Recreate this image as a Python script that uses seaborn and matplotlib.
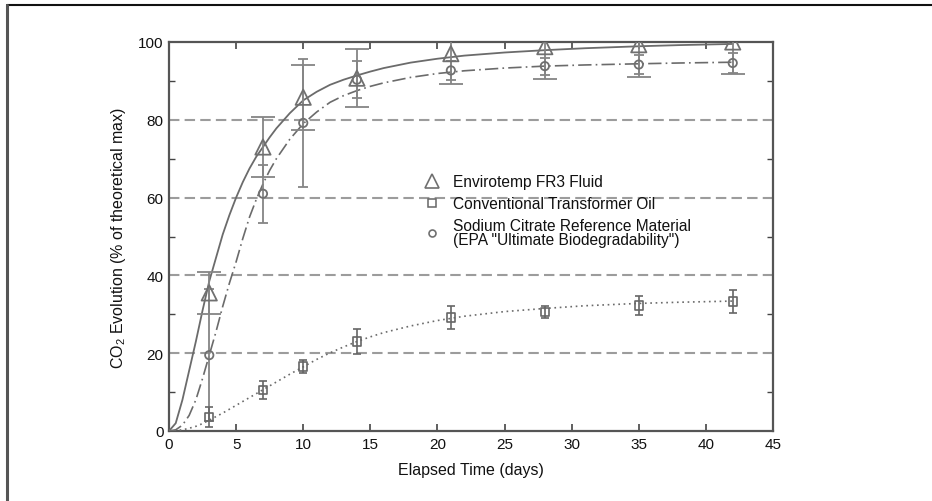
import matplotlib
matplotlib.use("Agg")
import matplotlib.pyplot as plt
from matplotlib.lines import Line2D
from matplotlib.ticker import MultipleLocator
import seaborn as sns
import pandas as pd

# ---- data ----
days = [3, 7, 10, 14, 21, 28, 35, 42]
fr3 = [35.5, 73.0, 85.8, 90.7, 97.0, 98.8, 99.3, 100.0]
fr3_err = [5.5, 7.8, 8.3, 7.5, 7.8, 8.3, 8.2, 8.3]
oil = [3.6, 10.5, 16.6, 23.0, 29.2, 30.6, 32.3, 33.3]
oil_err = [2.5, 2.3, 1.6, 3.2, 2.9, 1.6, 2.4, 3.0]
citrate = [19.5, 61.0, 79.2, 90.3, 92.7, 93.8, 94.2, 94.6]
citrate_err = [17.0, 7.5, 16.5, 4.7, 2.5, 2.2, 2.5, 2.5]

# fitted curves
fit_days = [0, 0.5, 1, 1.5, 2, 2.5, 3, 3.5, 4, 4.5, 5, 5.5, 6, 6.5, 7, 7.5, 8, 9, 10,
            11, 12, 13, 14, 15, 16, 18, 20, 22, 25, 28, 31, 35, 38, 42]
fr3_fit = [0, 2, 8, 15.5, 23, 31, 38.5, 44.5, 50.5, 55.5, 60, 64, 67.5, 70.5, 73, 75.5, 77.8, 81.7, 85,
           87.2, 89, 90.3, 91.4, 92.4, 93.3, 94.7, 95.7, 96.5, 97.3, 97.9, 98.4, 98.9, 99.2, 99.5]
citrate_fit = [0, 0.3, 1.5, 4, 8, 13.5, 19.5, 25.5, 32, 38, 43.5, 49.5, 55, 59.5, 63.5, 67, 70, 75, 79,
               82, 84.5, 86.2, 87.5, 88.6, 89.5, 90.9, 91.9, 92.6, 93.3, 93.8, 94.1, 94.4, 94.6, 94.8]
oil_fit = [0, 0.1, 0.3, 0.7, 1.2, 1.9, 2.8, 3.7, 4.6, 5.6, 6.6, 7.6, 8.6, 9.6, 10.6, 11.6, 12.6, 14.6, 16.5,
           18.4, 20.1, 21.6, 23.0, 24.2, 25.3, 27.0, 28.4, 29.5, 30.7, 31.5, 32.2, 32.8, 33.1, 33.4]

grid_levels = [20, 40, 60, 80]

labels = ["Envirotemp FR3 Fluid",
          "Conventional Transformer Oil",
          "Sodium Citrate Reference Material\n(EPA \"Ultimate Biodegradability\")"]

x_label = "Elapsed Time (days)"
y_label = "CO$_2$ Evolution (% of theoretical max)"

# ---- styling ----
sns.set_theme(style="white")
plt.rcParams["font.family"] = ["Liberation Sans", "DejaVu Sans"]
plt.rcParams["mathtext.fontset"] = "custom"
plt.rcParams["mathtext.rm"] = "Liberation Sans"
plt.rcParams["mathtext.it"] = "Liberation Sans"

W, H = 932, 502
fig = plt.figure(figsize=(W / 100, H / 100), dpi=100)
ax = fig.add_axes([169 / W, (H - 432) / H, (773 - 169) / W, (432 - 43) / H])

line_col = "#6b6b6b"
err_col = "#858585"
mark_col = "#707070"

for g in grid_levels:
    ax.axhline(g, color="#9c9c9c", lw=1.5, dashes=(5, 2.5), zorder=1)

fit_df = pd.DataFrame({"t": fit_days, "fr3": fr3_fit, "cit": citrate_fit, "oil": oil_fit})
sns.lineplot(data=fit_df, x="t", y="fr3", ax=ax, color=line_col, lw=1.3,
             estimator=None, sort=False, zorder=3)
sns.lineplot(data=fit_df, x="t", y="cit", ax=ax, color=line_col, lw=1.2,
             estimator=None, sort=False, zorder=3)
ax.lines[-1].set_dashes((8, 2.5, 1, 2.5))
sns.lineplot(data=fit_df, x="t", y="oil", ax=ax, color=line_col, lw=1.2,
             estimator=None, sort=False, zorder=3)
ax.lines[-1].set_dashes((1, 2.2))
for ln in ax.lines:
    ln.set_solid_joinstyle("round")
    ln.set_dash_joinstyle("round")

# error bars
ax.errorbar(days, fr3, yerr=fr3_err, fmt="none", ecolor=err_col, elinewidth=1.3,
            capsize=8.5, capthick=1.3, zorder=4)
ax.errorbar(days, citrate, yerr=citrate_err, fmt="none", ecolor=err_col, elinewidth=1.3,
            capsize=3.5, capthick=1.3, zorder=4)
ax.errorbar(days, oil, yerr=oil_err, fmt="none", ecolor="#666666", elinewidth=1.2,
            capsize=3, capthick=1.2, zorder=4)

pts = pd.DataFrame({"t": days, "fr3": fr3, "oil": oil, "cit": citrate})
sns.scatterplot(data=pts, x="t", y="fr3", ax=ax, marker="^", s=11 ** 2,
                facecolor="none", edgecolor=mark_col, linewidth=1.3, zorder=5)
sns.scatterplot(data=pts, x="t", y="oil", ax=ax, marker="s", s=6 ** 2,
                facecolor="none", edgecolor="#666666", linewidth=1.2, zorder=5)
sns.scatterplot(data=pts, x="t", y="cit", ax=ax, marker="o", s=6 ** 2,
                facecolor="none", edgecolor=mark_col, linewidth=1.3, zorder=5)

ax.set_xlim(0, 45)
ax.set_ylim(0, 100)
ax.xaxis.set_major_locator(MultipleLocator(5))
ax.yaxis.set_major_locator(MultipleLocator(20))
ax.yaxis.set_minor_locator(MultipleLocator(10))
ax.tick_params(which="both", direction="in", top=True, right=True, bottom=True, left=True,
               color="#444444", labelsize=11, labelcolor="#111111", pad=4)
ax.tick_params(which="major", length=5, width=1.2)
ax.tick_params(which="minor", length=4, width=1.0)
ax.tick_params(axis="x", which="minor", bottom=False, top=False)
for s in ax.spines.values():
    s.set_color("#555555")
    s.set_linewidth(1.6)
    s.set_visible(True)

ax.set_xlabel(x_label, fontsize=11.5, color="#111111", labelpad=8)
ax.set_ylabel(y_label, fontsize=11.5, color="#111111", labelpad=7)

# legend
handles = [
    Line2D([], [], ls="none", marker="^", ms=10, mfc="none", mec=mark_col, mew=1.2),
    Line2D([], [], ls="none", marker="s", ms=5.5, mfc="none", mec="#666666", mew=1.1),
    Line2D([], [], ls="none", marker="o", ms=5, mfc="none", mec=mark_col, mew=1.2),
]
leg = ax.legend(handles, labels, loc="upper left",
                bbox_to_anchor=(423 / W, (H - 175) / H), bbox_transform=fig.transFigure,
                frameon=False, fontsize=11.2, handlelength=1.1, handletextpad=0.85,
                labelspacing=0.45, borderpad=0, borderaxespad=0)
for t in leg.get_texts():
    t.set_color("#111111")
    t.set_linespacing(0.9)

# page frame (top and left edge of the scanned figure box)
fig.add_artist(Line2D([7 / W, 1.0], [1 - 6 / H, 1 - 6 / H], transform=fig.transFigure,
                      color="#111111", lw=1.5))
fig.add_artist(Line2D([7 / W, 7 / W], [0, 1 - 6 / H], transform=fig.transFigure,
                      color="#555555", lw=2.2))

fig.savefig("out.png", dpi=100)
